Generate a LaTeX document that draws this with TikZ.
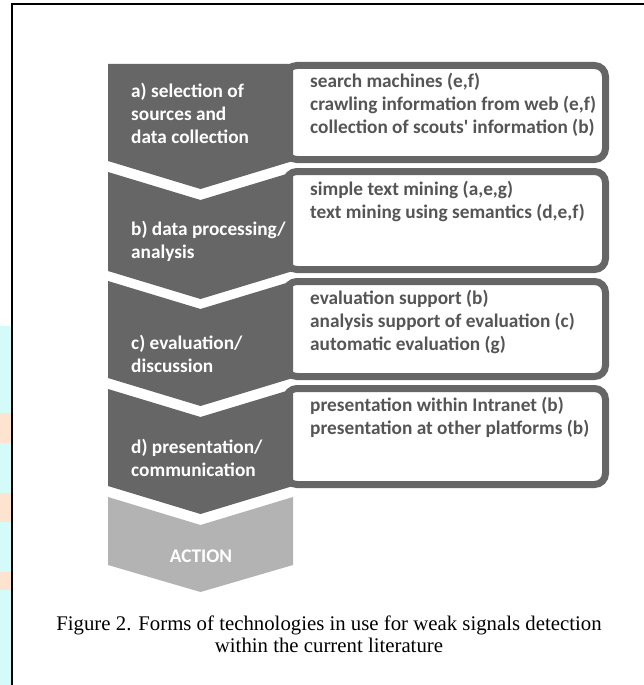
\documentclass[tikz,border=0pt]{standalone}
\usepackage{fontspec}
\setmainfont{Liberation Serif}
\newfontfamily\calfont{Carlito}
\definecolor{stepgray}{HTML}{666666}
\definecolor{actiongray}{HTML}{B3B3B3}
\definecolor{boxtext}{HTML}{555555}
\definecolor{scancyan}{HTML}{D4FAFA}
\definecolor{scanpeach}{HTML}{FCE4D0}

\begin{document}
\begin{tikzpicture}[x=1pt,y=-1pt,
  techbox/.style={draw=stepgray,line width=7pt,fill=white,rounded corners=11pt},
  steplabel/.style={anchor=west,align=left,inner sep=0pt,text=white,
    font=\calfont\bfseries\fontsize{19.3}{23}\selectfont},
  techlist/.style={anchor=west,align=left,inner sep=0pt,text=boxtext,
    font=\calfont\bfseries\fontsize{19.3}{23}\selectfont}]
\useasboundingbox (0,0) rectangle (644,685);

% scan strip and frame
\fill[scancyan] (0,326) rectangle (11,685);
\fill[scanpeach] (0,413) rectangle (11,443);
\fill[scanpeach] (0,493) rectangle (11,522);
\fill[scanpeach] (0,572) rectangle (11,590);
\draw[line width=1.5pt] (12,685) -- (12,4) -- (644,4);

% boxes with the technologies
\draw[techbox] (286,65.5) rectangle (605.5,159.5);
\draw[techbox] (286,171.5) rectangle (605.5,269.5);
\draw[techbox] (286,281.5) rectangle (605.5,376.5);
\draw[techbox] (286,388.5) rectangle (605.5,484.5);

% process chevrons
\fill[stepgray] (108,64) -- (293,64) -- (293,161) -- (200.5,189) -- (108,161) -- cycle;
\fill[stepgray] (108,172) -- (200.5,200) -- (293,172) -- (293,271) -- (200.5,299) -- (108,271) -- cycle;
\fill[stepgray] (108,281) -- (200.5,309) -- (293,281) -- (293,378) -- (200.5,406) -- (108,378) -- cycle;
\fill[stepgray] (108,389) -- (200.5,417) -- (293,389) -- (293,486) -- (200.5,514) -- (108,486) -- cycle;
\fill[actiongray] (108,497) -- (200.5,525) -- (293,497) -- (293,565) -- (200.5,592) -- (108,565) -- cycle;

\node[steplabel] (labA) at (131,113) {a) selection of\\sources and\\data collection};
\node[steplabel] (labB) at (131,241.5) {b) data processing/\\analysis};
\node[steplabel] (labC) at (131,354) {c) evaluation/\\discussion};
\node[steplabel] (labD) at (131,457.5) {d) presentation/\\communication};
\node[steplabel,anchor=center] (action) at (201,556) {ACTION};

\node[techlist] (techA) at (310,105) {search machines (e,f)\\crawling information from web (e,f)\\collection of scouts' information (b)};
\node[techlist] (techB) at (310,201) {simple text mining (a,e,g)\\text mining using semantics (d,e,f)};
\node[techlist] (techC) at (310,322) {evaluation support (b)\\analysis support of evaluation (c)\\automatic evaluation (g)};
\node[techlist] (techD) at (310,417.5) {presentation within Intranet (b)\\presentation at other platforms (b)};

\node[align=center,font=\fontsize{20.8}{22}\selectfont] (caption) at (329,634)
  {Figure 2. Forms of technologies in use for weak signals detection\\within the current literature};
\end{tikzpicture}
\end{document}
